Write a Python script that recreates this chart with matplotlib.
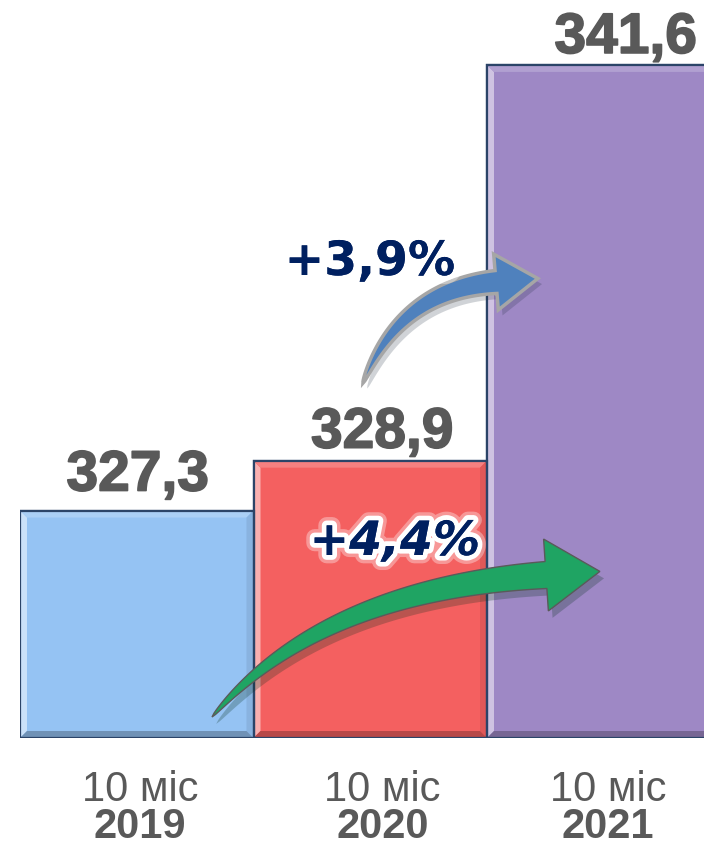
import numpy as np
import matplotlib
matplotlib.use('Agg')
import matplotlib.pyplot as plt
from matplotlib.patches import Polygon
from matplotlib import patheffects as pe
from matplotlib.transforms import blended_transform_factory
import matplotlib.colors as mcolors

# ---- data ----
periods = ['10 міс', '10 міс', '10 міс']
years = ['2019', '2020', '2021']
values = [327.3, 328.9, 341.6]
value_labels = ['327,3', '328,9', '341,6']
growth_labels = ['+3,9%', '+4,4%']
bar_colors = ['#95C3F3', '#F46060', '#9E88C5']

# ---- layout ----
W, H = 704, 849
BASE = 320.0
label_dx_px = [1, 12, 22]
label_dy_px = [20, 13, 12]
cat_dx_px = [3, 12, 4]

fig = plt.figure(figsize=(W / 100, H / 100), dpi=100)
ax = fig.add_axes([20 / W, 111 / H, 684 / W, 738 / H])
px_per_x = 233.5
ax.set_xlim(-0.5, -0.5 + 684 / px_per_x)
ax.set_ylim(BASE, BASE + 738 / 31.16)
ax.axis('off')

x = np.arange(len(values))
heights = np.array(values) - BASE
bars = ax.bar(x, heights, width=1.0, bottom=BASE, color=bar_colors,
              edgecolor='#2B4468', linewidth=1.6, zorder=2)

# bevel
px_per_y = 738 / (ax.get_ylim()[1] - ax.get_ylim()[0])
bev = 7
dx, dy = bev / px_per_x, bev / px_per_y


def mix(c, other, f):
    a = np.array(mcolors.to_rgb(c))
    b = np.array(mcolors.to_rgb(other))
    return tuple(a * (1 - f) + b * f)


for b, col in zip(bars, bar_colors):
    x0, y0 = b.get_x(), b.get_y()
    x1, y1 = x0 + b.get_width(), y0 + b.get_height()
    polys = [
        ([(x0, y0), (x0 + dx, y0 + dy), (x0 + dx, y1 - dy), (x0, y1)], mix(col, 'white', 0.5)),
        ([(x0, y1), (x0 + dx, y1 - dy), (x1 - dx, y1 - dy), (x1, y1)], mix(col, 'white', 0.2)),
        ([(x1, y1), (x1 - dx, y1 - dy), (x1 - dx, y0 + dy), (x1, y0)], mix(col, 'black', 0.08)),
        ([(x0, y0), (x0 + dx, y0 + dy), (x1 - dx, y0 + dy), (x1, y0)], mix(col, 'black', 0.25)),
    ]
    for pts, c in polys:
        ax.add_patch(Polygon(pts, closed=True, facecolor=c, edgecolor='none', zorder=2.5))
    ax.add_patch(plt.Rectangle((x0, y0), x1 - x0, y1 - y0, fill=False,
                               edgecolor='#2B4468', linewidth=1.6, zorder=2.6))

# value labels
for xi, v, lab, ddx, ddy in zip(x, values, value_labels, label_dx_px, label_dy_px):
    ax.annotate(lab, xy=(xi, v), xytext=(ddx, ddy), textcoords='offset pixels',
                ha='center', va='baseline', fontsize=41, fontweight='bold',
                family='Liberation Sans', color='#595959', zorder=5,
                annotation_clip=False,
                path_effects=[pe.withStroke(linewidth=1.2, foreground='#595959')])

# category labels
trans = blended_transform_factory(ax.transData, ax.transAxes)
for xi, p, yr, ddx in zip(x, periods, years, cat_dx_px):
    ax.annotate(p, xy=(xi, 0), xycoords=trans, xytext=(ddx, -63),
                textcoords='offset pixels', ha='center', va='baseline',
                fontsize=30, family='Liberation Sans', color='#595959',
                annotation_clip=False)
    ax.annotate(yr, xy=(xi, 0), xycoords=trans, xytext=(ddx, -100),
                textcoords='offset pixels', ha='center', va='baseline',
                fontsize=30, fontweight='bold', family='Liberation Sans',
                color='#595959', annotation_clip=False)


# curved arrows (pixel coords, y downward)
def curved_arrow(p0, c, p2, body_w, head_hw, head_len, n=80):
    p0, c, p2 = map(np.array, (p0, c, p2))
    t = np.linspace(0, 1, n)[:, None]
    B = (1 - t) ** 2 * p0 + 2 * (1 - t) * t * c + t ** 2 * p2
    D = 2 * (1 - t) * (c - p0) + 2 * t * (p2 - c)
    D = D / np.linalg.norm(D, axis=1)[:, None]
    N = np.column_stack([-D[:, 1], D[:, 0]])
    hw = body_w / 2 * t ** 0.6
    upper = B + N * hw
    lower = B - N * hw
    u, m = D[-1], N[-1]
    head = [p2 + m * head_hw, p2 + u * head_len, p2 - m * head_hw]
    pts = np.vstack([upper, head, lower[::-1]])
    return np.column_stack([pts[:, 0] / W, 1 - pts[:, 1] / H])


blue = curved_arrow((363, 383), (400, 290), (496, 282), 23, 28, 42)
green = curved_arrow((212, 717), (320, 590), (546, 575), 27, 36, 54)

fig.add_artist(Polygon(blue, closed=True, transform=fig.transFigure,
                       facecolor='#4F81BD', edgecolor='#A6A6A6', linewidth=2.5,
                       zorder=6, path_effects=[pe.SimplePatchShadow(offset=(3, -4), alpha=0.2), pe.Normal()]))
fig.add_artist(Polygon(green, closed=True, transform=fig.transFigure,
                       facecolor='#1FA463', edgecolor='#5A5A5A', linewidth=1.0,
                       zorder=6, path_effects=[pe.SimplePatchShadow(offset=(3, -5), alpha=0.25), pe.Normal()]))

# growth labels
glow = [pe.withStroke(linewidth=12, foreground=(1, 1, 1, 0.35)),
        pe.withStroke(linewidth=7, foreground='white'), pe.Normal()]
fig.text(370 / W, 1 - 275 / H, growth_labels[0], ha='center', va='baseline',
         fontsize=34, fontweight='bold', family='DejaVu Sans', color='#002060',
         path_effects=glow, zorder=7)
fig.text(395 / W, 1 - 555 / H, growth_labels[1], ha='center', va='baseline',
         fontsize=34, fontweight='bold', style='italic', family='DejaVu Sans',
         color='#002060', path_effects=glow, zorder=7)

fig.savefig('out.png', dpi=100, facecolor='white')
